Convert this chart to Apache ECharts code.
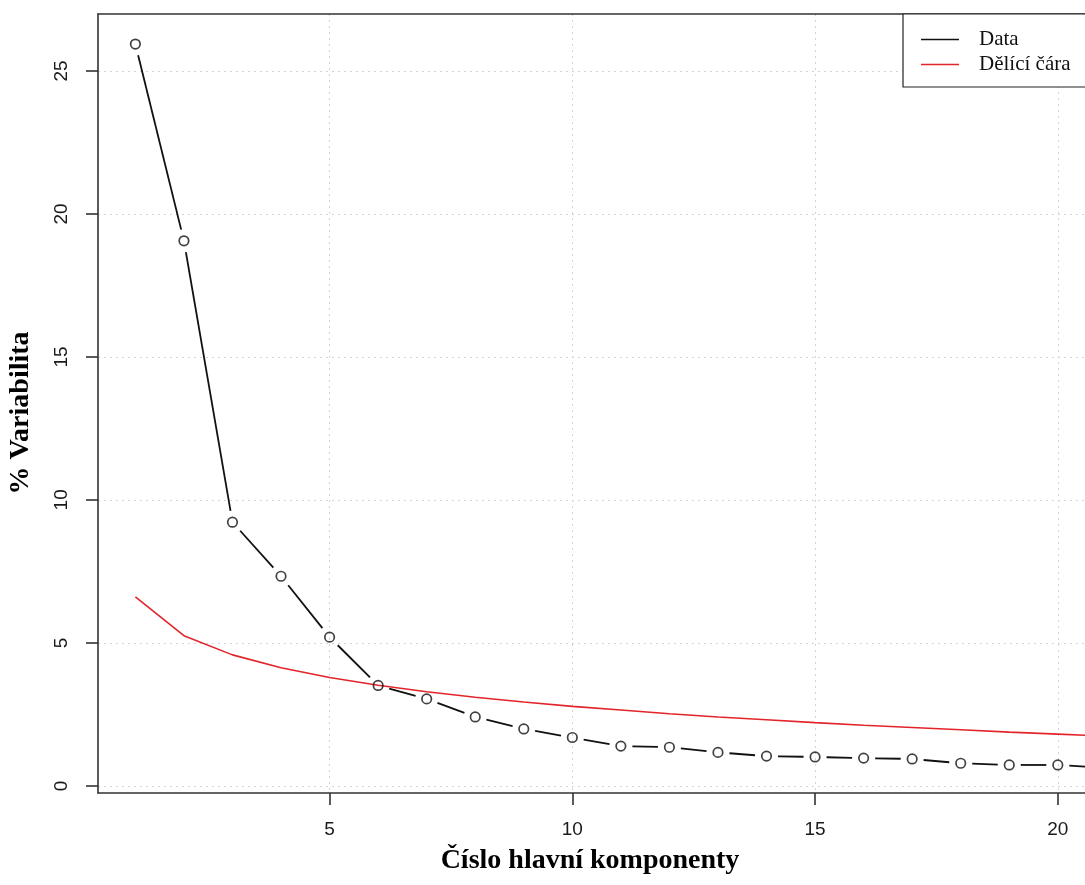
<!DOCTYPE html>
<html>
<head>
<meta charset="utf-8">
<script src="https://cdn.jsdelivr.net/npm/echarts@6/dist/echarts.min.js"></script>
<style>
html,body{margin:0;padding:0;background:#fff;}
#chart{width:1085px;height:885px;}
</style>
</head>
<body>
<div id="chart"></div>
<script>
// ---- data ----
const components = [1,2,3,4,5,6,7,8,9,10,11,12,13,14,15,16,17,18,19,20,21];
const dataValues = [25.94,19.06,9.22,7.33,5.20,3.51,3.04,2.41,1.99,1.69,1.39,1.35,1.17,1.04,1.01,0.97,0.94,0.79,0.73,0.73,0.63];
const dividerValues = [6.61,5.25,4.58,4.13,3.79,3.52,3.29,3.10,2.93,2.78,2.65,2.52,2.41,2.31,2.21,2.12,2.04,1.96,1.88,1.81,1.74];
const xTicks = [5,10,15,20];
const yTicks = [0,5,10,15,20,25];
const seriesNames = ['Data','Dělící čára'];
const xTitle = 'Číslo hlavní komponenty';
const yTitle = '% Variabilita';

const GAP = 11.5;
const pts = components.map((c,i)=>[c, dataValues[i]]);
const segs = [];
for (let i=0;i<pts.length-1;i++) segs.push([pts[i][0],pts[i][1],pts[i+1][0],pts[i+1][1]]);

const chart = echarts.init(document.getElementById('chart'), null, {renderer:'canvas'});
const axisFont = {fontFamily:'Liberation Sans, Arial, sans-serif', fontSize:19, color:'#1a1a1a'};
const boxLine = {show:true, onZero:false, lineStyle:{color:'#333', width:1.6}};
const XMIN = 0.23, XMAX = 20.56;
chart.setOption({
  backgroundColor:'#fff',
  animation:false,
  grid:{left:98, top:14, right:0, height:779, show:false},
  xAxis:[{
    type:'value', min:XMIN, max:XMAX, position:'bottom',
    axisLine:boxLine,
    axisTick:{show:true, length:12, lineStyle:{color:'#333', width:1.6}, customValues:xTicks},
    axisLabel:Object.assign({margin:27, customValues:xTicks, formatter:v=>String(v)}, axisFont),
    splitLine:{show:true, lineStyle:{color:'#d3d3d3', width:1, type:[2,4]}}
  },{
    type:'value', min:XMIN, max:XMAX, position:'top',
    axisLine:boxLine, axisTick:{show:false}, axisLabel:{show:false}, splitLine:{show:false}
  }],
  yAxis:{
    type:'value', min:-0.25, max:26.99,
    axisLine:boxLine,
    axisTick:{show:true, length:12, lineStyle:{color:'#333', width:1.6}, customValues:yTicks},
    axisLabel:Object.assign({margin:27, rotate:90, customValues:yTicks, formatter:v=>String(v)}, axisFont),
    splitLine:{show:true, lineStyle:{color:'#d3d3d3', width:1, type:[2,4]}}
  },
  legend:{
    orient:'vertical', left:903, top:14,
    padding:[15,40,12,18],
    backgroundColor:'#fff', borderColor:'#222', borderWidth:1.2, borderRadius:0,
    itemWidth:38, itemHeight:1.5, itemGap:4,
    textStyle:{fontFamily:'Liberation Serif, Times New Roman, serif', fontSize:21, lineHeight:20, color:'#111', padding:[0,0,0,15]},
    data:[{name:seriesNames[0], icon:'rect'},{name:seriesNames[1], icon:'rect'}],
    z:10
  },
  graphic:[
    {type:'text', z:20, position:[590,861],
     style:{text:xTitle, x:0, y:0, fontFamily:'Liberation Serif, Times New Roman, serif', fontWeight:'bold', fontSize:28, fill:'#000', textAlign:'center', textVerticalAlign:'middle'}},
    {type:'text', z:20, position:[21,413], rotation:Math.PI/2,
     style:{text:yTitle, x:0, y:0, fontFamily:'Liberation Serif, Times New Roman, serif', fontWeight:'bold', fontSize:28, fill:'#000', textAlign:'center', textVerticalAlign:'middle'}}
  ],
  series:[
    {
      name:seriesNames[0], type:'custom', color:'#111', itemStyle:{color:'#111'},
      encode:{x:[0,2], y:[1,3]},
      data:segs,
      renderItem:function(params, api){
        const p1 = api.coord([api.value(0), api.value(1)]);
        const p2 = api.coord([api.value(2), api.value(3)]);
        const dx = p2[0]-p1[0], dy = p2[1]-p1[1];
        const L = Math.hypot(dx, dy);
        if (L <= 2*GAP) return null;
        const ux = dx/L, uy = dy/L;
        return {type:'line', shape:{x1:p1[0]+ux*GAP, y1:p1[1]+uy*GAP, x2:p2[0]-ux*GAP, y2:p2[1]-uy*GAP},
                style:{stroke:'#111', lineWidth:1.8}};
      },
      z:3
    },
    {
      name:seriesNames[1], type:'line', color:'#e3242b',
      data:components.map((c,i)=>[c, dividerValues[i]]),
      showSymbol:false, symbol:'none',
      lineStyle:{color:'#e3242b', width:1.6},
      z:4
    },
    {
      name:'pts', type:'scatter', symbol:'circle', symbolSize:9.5,
      data:pts,
      itemStyle:{color:'rgba(0,0,0,0)', borderColor:'#111', borderWidth:1.7},
      z:5, silent:true
    }
  ]
});
</script>
</body>
</html>
